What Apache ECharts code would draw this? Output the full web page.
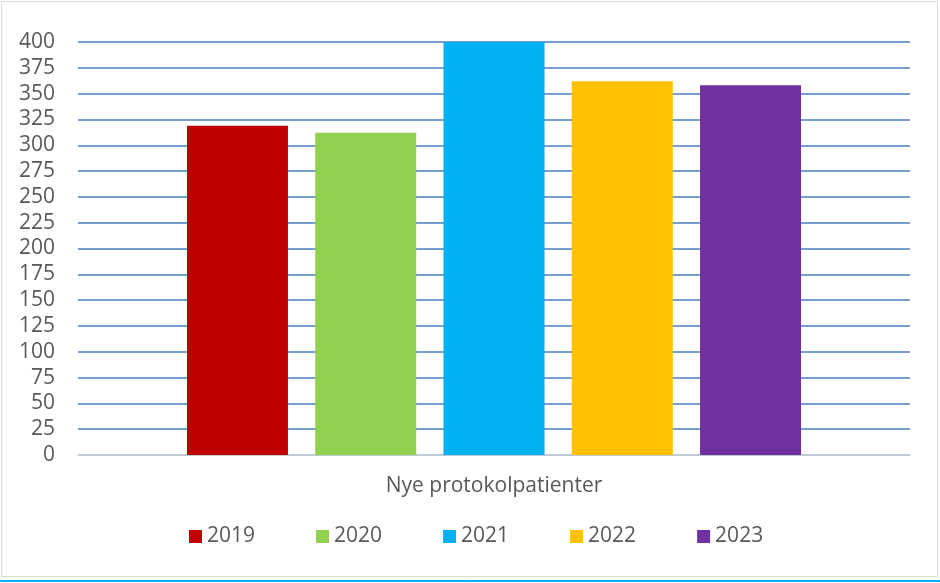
<!DOCTYPE html>
<html>
<head>
<meta charset="utf-8">
<script src="https://cdn.jsdelivr.net/npm/echarts@6/dist/echarts.min.js"></script>
<style>
  html, body { margin: 0; padding: 0; background: #fff; }
  #chart { width: 940px; height: 583px; }
</style>
</head>
<body>
<div id="chart"></div>
<script>
// data
const categories = ['Nye protokolpatienter']
const years = ['2019', '2020', '2021', '2022', '2023']
const values = [319, 312, 400, 362, 358]
const colors = ['#c00000', '#92d050', '#00b0f0', '#ffc000', '#7030a0']

const font = 'Open Sans'
const chart = echarts.init(document.getElementById('chart'))

chart.setOption({
  animation: false,
  textStyle: { fontFamily: font },
  graphic: [
    {
      type: 'rect',
      shape: { x: 1.5, y: 1.5, width: 936, height: 575 },
      style: { fill: 'none', stroke: '#d9d9d9', lineWidth: 1 }
    },
    {
      type: 'rect',
      shape: { x: 0, y: 580, width: 940, height: 2 },
      style: { fill: '#00b0f0' }
    }
  ],
  grid: { left: 78, right: 30, top: 42, bottom: 128 },
  legend: {
    left: 184,
    top: 521,
    icon: 'rect',
    itemWidth: 13,
    itemHeight: 13,
    itemGap: 61,
    textStyle: { fontSize: 21, color: '#595959', fontFamily: font },
    data: years
  },
  xAxis: {
    type: 'category',
    data: categories,
    axisTick: { show: false },
    axisLine: { lineStyle: { color: '#d9d9d9', width: 1.5 } },
    axisLabel: { fontSize: 21, color: '#595959', margin: 21 }
  },
  yAxis: {
    type: 'value',
    min: 0,
    max: 400,
    interval: 25,
    axisLine: { show: false },
    axisTick: { show: false },
    axisLabel: { fontSize: 21, color: '#595959', margin: 23 },
    splitLine: { lineStyle: { color: '#4a7ebb', width: 1.5 } }
  },
  series: years.map((year, i) => ({
    name: year,
    type: 'bar',
    data: [values[i]],
    barWidth: 101,
    barGap: '27%',
    itemStyle: { color: colors[i] }
  }))
})
</script>
</body>
</html>
